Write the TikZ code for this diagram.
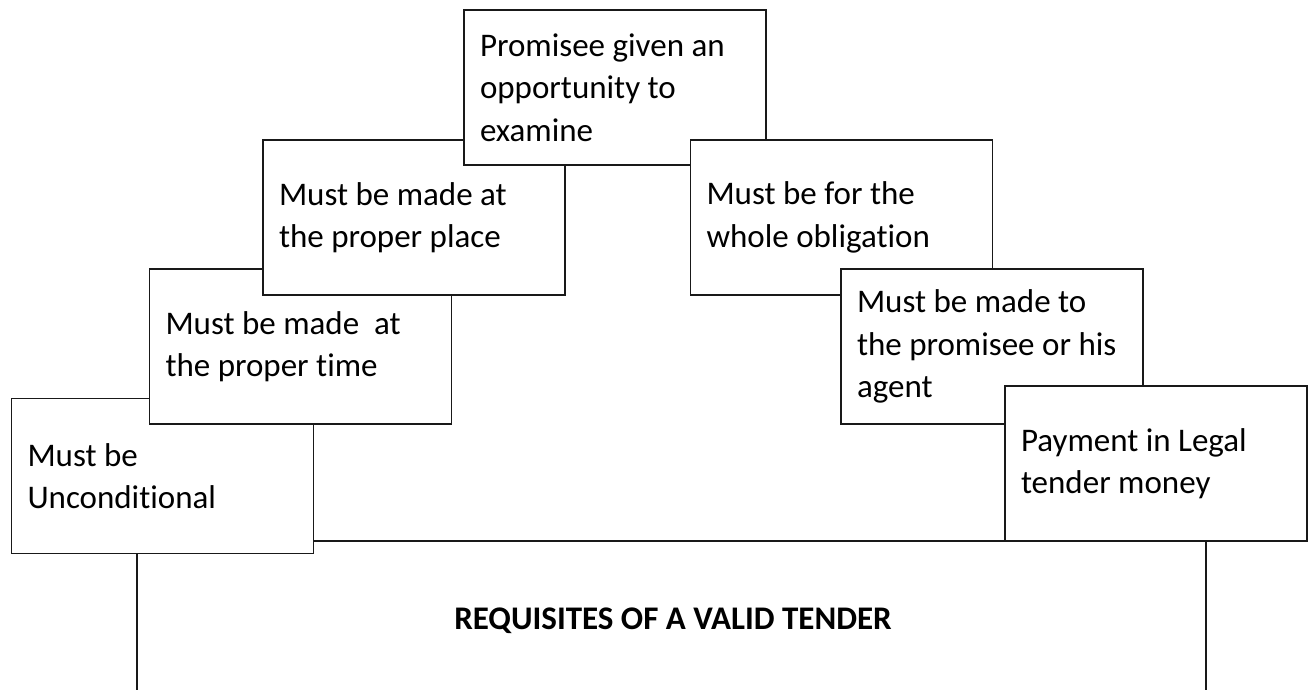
\documentclass[tikz,border=0pt]{standalone}
\usepackage{fontspec}
\setmainfont{Carlito}[Ligatures=NoCommon]
\begin{document}
\begin{tikzpicture}[x=1pt,y=-1pt,
  every node/.style={font=\fontsize{33pt}{42.5pt}\selectfont},
  itembox/.style={draw=black!90, line width=1.6pt, fill=white, rectangle,
    minimum width=302pt, minimum height=155pt, text width=270pt,
    inner xsep=16pt, inner ysep=0pt, align=flush left},
  baseline/.style={draw=black!90, line width=1.6pt}]
\useasboundingbox (0,0) rectangle (1312,690);

% open base frame under the heading
\coordinate (bl) at (137,690);
\coordinate (tl) at (137,541);
\coordinate (tr) at (1206,541);
\coordinate (br) at (1206,690);
\draw[baseline] (bl) -- (tl) -- (tr) -- (br);
\node[font=\fontsize{33pt}{40pt}\selectfont\bfseries] (title) at (673,621) {REQUISITES OF A VALID TENDER};

% the requisites, stacked as steps
\node[itembox] (uncond) at (162.5,476)  {Must be\\Unconditional};
\node[itembox] (time)   at (300.5,346.5){Must be made~ at\\the proper time};
\node[itembox] (place)  at (414,217.5)  {Must be made at\\the proper place};
\node[itembox] (exam)   at (615,87.5)   {Promisee given an\\opportunity to\\examine};
\node[itembox] (whole)  at (841.5,217.5){Must be for the\\whole obligation};
\node[itembox] (agent)  at (992,346.5)  {Must be made to\\the promisee or his\\agent};
\node[itembox] (legal)  at (1156,463.5) {Payment in Legal\\tender money};
\end{tikzpicture}
\end{document}
